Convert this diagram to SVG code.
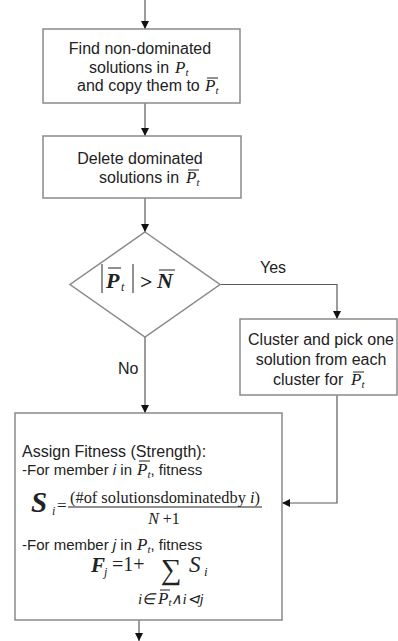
<svg xmlns="http://www.w3.org/2000/svg" width="398" height="641" viewBox="0 0 398 641">
<defs>
<marker id="ah" markerWidth="8" markerHeight="8" refX="8" refY="4" orient="auto" markerUnits="userSpaceOnUse">
<path d="M0,0 L8,4 L0,8 z" fill="#111"/>
</marker>
<style>
.box{fill:#fff;stroke:#8a8a8a;stroke-width:1.5}
.con{fill:none;stroke:#5a5a5a;stroke-width:1.2;marker-end:url(#ah)}
.t{font-family:"Liberation Sans",Arial,sans-serif;font-size:16px;fill:#222}
.s{font-size:15px}
.m{font-family:"Liberation Serif","Times New Roman",serif;font-style:italic;fill:#222}
.r{font-family:"Liberation Serif","Times New Roman",serif;fill:#222}
.ov{stroke:#222;stroke-width:1}
</style>
</defs>
<rect width="398" height="641" fill="#fff"/>

<g id="connectors">
<path class="con" d="M145,0 V29"/>
<path class="con" d="M145,103 V136"/>
<path class="con" d="M145,198 V232"/>
<path class="con" d="M220,284.5 H337 V319"/>
<path class="con" d="M145,337 V413"/>
<path class="con" d="M337,395 V503 H282"/>
<path class="con" d="M139,620 V641"/>
<text class="t" x="260" y="273">Yes</text>
<text class="t" x="118" y="374">No</text>
</g>

<g id="n1">
<rect class="box" x="43" y="29" width="197" height="74"/>
<text class="t" x="140" y="54" text-anchor="middle">Find non-dominated</text>
<text class="t" x="89" y="73">solutions in <tspan class="m" x="175" font-size="17">P</tspan><tspan class="m" font-size="11" dy="3">t</tspan></text>
<text class="t" x="77" y="91">and copy them to <tspan class="m" x="205" font-size="17">P</tspan><tspan class="m" font-size="11" dy="3">t</tspan></text>
<line class="ov" x1="207" y1="78" x2="218" y2="78"/>
</g>

<g id="n2">
<rect class="box" x="43" y="136" width="198" height="62"/>
<text class="t" x="140" y="164" text-anchor="middle">Delete dominated</text>
<text class="t" x="99" y="183">solutions in <tspan class="m" x="186" font-size="17">P</tspan><tspan class="m" font-size="11" dy="3">t</tspan></text>
<line class="ov" x1="188" y1="170" x2="199" y2="170"/>
</g>

<g id="n3">
<polygon class="box" points="145,232 220,284.5 145,337 70,284.5"/>
<line class="ov" x1="102" y1="264" x2="102" y2="293" stroke-width="1.3"/>
<text class="m" x="106" y="288" font-size="22" font-weight="bold">P</text>
<text class="m" x="121" y="291" font-size="12">t</text>
<line class="ov" x1="108" y1="268" x2="121" y2="268" stroke-width="1.3"/>
<line class="ov" x1="133" y1="264" x2="133" y2="293" stroke-width="1.3"/>
<text class="r" x="140" y="289" font-size="22" font-weight="bold">&gt;</text>
<text class="m" x="157" y="288" font-size="22" font-weight="bold">N</text>
<line class="ov" x1="159" y1="270" x2="175" y2="270" stroke-width="1.3"/>
</g>

<g id="n4">
<rect class="box" x="240" y="319" width="157" height="76"/>
<text class="t" x="321" y="345" text-anchor="middle">Cluster and pick one</text>
<text class="t" x="321" y="365" text-anchor="middle">solution from each</text>
<text class="t" x="273" y="385">cluster for <tspan class="m" x="351" font-size="17">P</tspan><tspan class="m" font-size="11" dy="3">t</tspan></text>
<line class="ov" x1="353" y1="372" x2="364" y2="372"/>
</g>

<g id="n5">
<rect class="box" x="15" y="413" width="267" height="207"/>
<text class="t" x="22" y="457">Assign Fitness (Strength):</text>
<text class="t s" x="22" y="475">-For member <tspan font-style="italic">i</tspan> in <tspan class="m" x="137" font-size="17">P</tspan><tspan class="m" font-size="11" dy="3">t</tspan><tspan dy="-3">, fitness</tspan></text>
<line class="ov" x1="139" y1="461" x2="150" y2="461"/>
<text class="m" x="31" y="512" font-size="29" font-weight="bold">S</text>
<text class="m" x="52" y="515" font-size="12">i</text>
<text class="r" x="57" y="511" font-size="17">=</text>
<line class="ov" x1="68" y1="507" x2="262" y2="507"/>
<text class="r" x="70" y="503" font-size="16" textLength="190" lengthAdjust="spacingAndGlyphs">(#of solutionsdominatedby <tspan font-style="italic">i</tspan>)</text>
<text class="r" x="164" y="524" font-size="16" text-anchor="middle"><tspan font-style="italic">N</tspan> +1</text>
<text class="t s" x="22" y="550">-For member <tspan font-style="italic">j</tspan> in <tspan class="m" x="137" font-size="17">P</tspan><tspan class="m" font-size="11" dy="3">t</tspan><tspan dy="-3">, fitness</tspan></text>
<text class="m" x="91" y="572" font-size="21" font-weight="bold">F</text>
<text class="m" x="104" y="576" font-size="12">j</text>
<text class="r" x="112" y="571" font-size="20">=1+</text>
<text class="r" x="161" y="579" font-size="29">∑</text>
<text class="m" x="189" y="572" font-size="23">S</text>
<text class="m" x="204" y="576" font-size="13">i</text>
<text class="m" x="138" y="604" font-size="15">i∈<tspan x="158" font-size="17">P</tspan><tspan font-size="11" dy="2">t</tspan><tspan dy="-2">∧i⊲j</tspan></text>
<line class="ov" x1="160" y1="590" x2="170" y2="590"/>
</g>
</svg>
